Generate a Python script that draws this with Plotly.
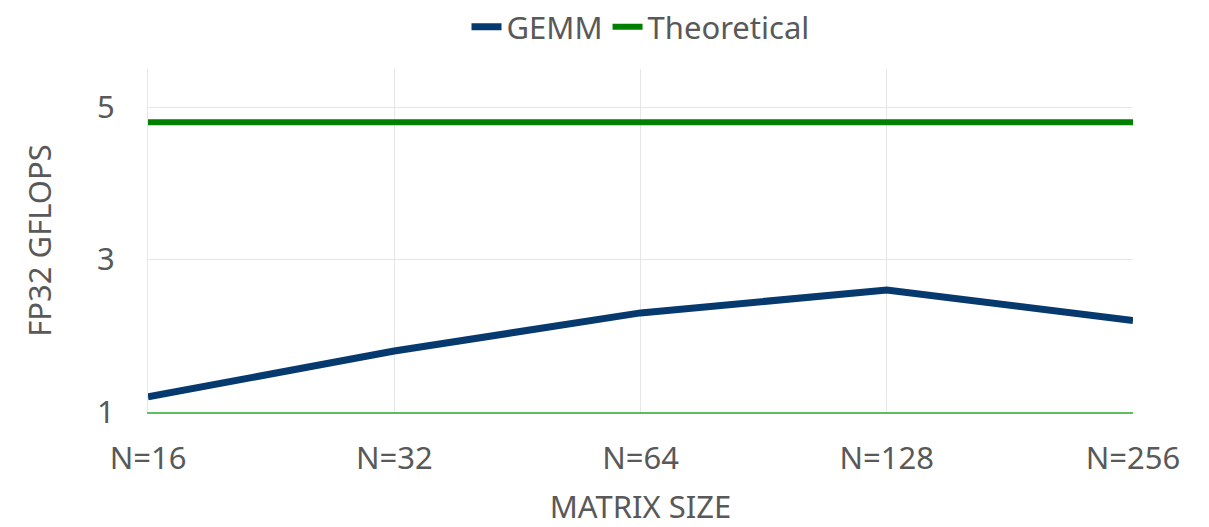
import plotly.graph_objects as go

categories = ["N=16", "N=32", "N=64", "N=128", "N=256"]
gemm = [1.2, 1.8, 2.3, 2.6, 2.2]
theoretical = [4.8, 4.8, 4.8, 4.8, 4.8]

FONT = "Noto Sans"
TXT = "#595959"
FS = 31

fig = go.Figure()
fig.add_trace(go.Scatter(x=categories, y=gemm, mode="lines", name="GEMM",
                         line=dict(color="#063A6E", width=7)))
fig.add_trace(go.Scatter(x=categories, y=theoretical, mode="lines", name="Theoretical",
                         line=dict(color="#008000", width=6)))

# page body has an 8px margin, so the figure is shifted by 8px
fig.update_layout(
    width=1201, height=519,
    margin=dict(l=140, r=76, t=61, b=115, autoexpand=False),
    paper_bgcolor="white", plot_bgcolor="white",
    font=dict(family=FONT, size=FS, color=TXT),
    legend=dict(orientation="h", x=0.5, xanchor="center", y=1.122, yanchor="middle",
                yref="paper", font=dict(size=FS, color=TXT)),
    showlegend=True,
)
fig.update_xaxes(
    type="category", range=[0, 4], showgrid=True, gridcolor="#e6e6e6", gridwidth=1,
    showline=True, linecolor="#5cbf5c", linewidth=1.5, automargin=False,
    ticks="", ticklabelstandoff=18,
    title=dict(text="MATRIX SIZE", standoff=30, font=dict(size=FS, color=TXT)),
)
fig.update_yaxes(
    range=[1, 5.5], tickvals=[1, 3, 5], showgrid=True, gridcolor="#e6e6e6", gridwidth=1,
    zeroline=False, showline=True, linecolor="#e6e6e6", ticks="", ticklabelstandoff=26,
    automargin=False,
    title=dict(text="FP32 GFLOPS", standoff=36, font=dict(size=FS, color=TXT)),
)

fig.write_html("out.html")
